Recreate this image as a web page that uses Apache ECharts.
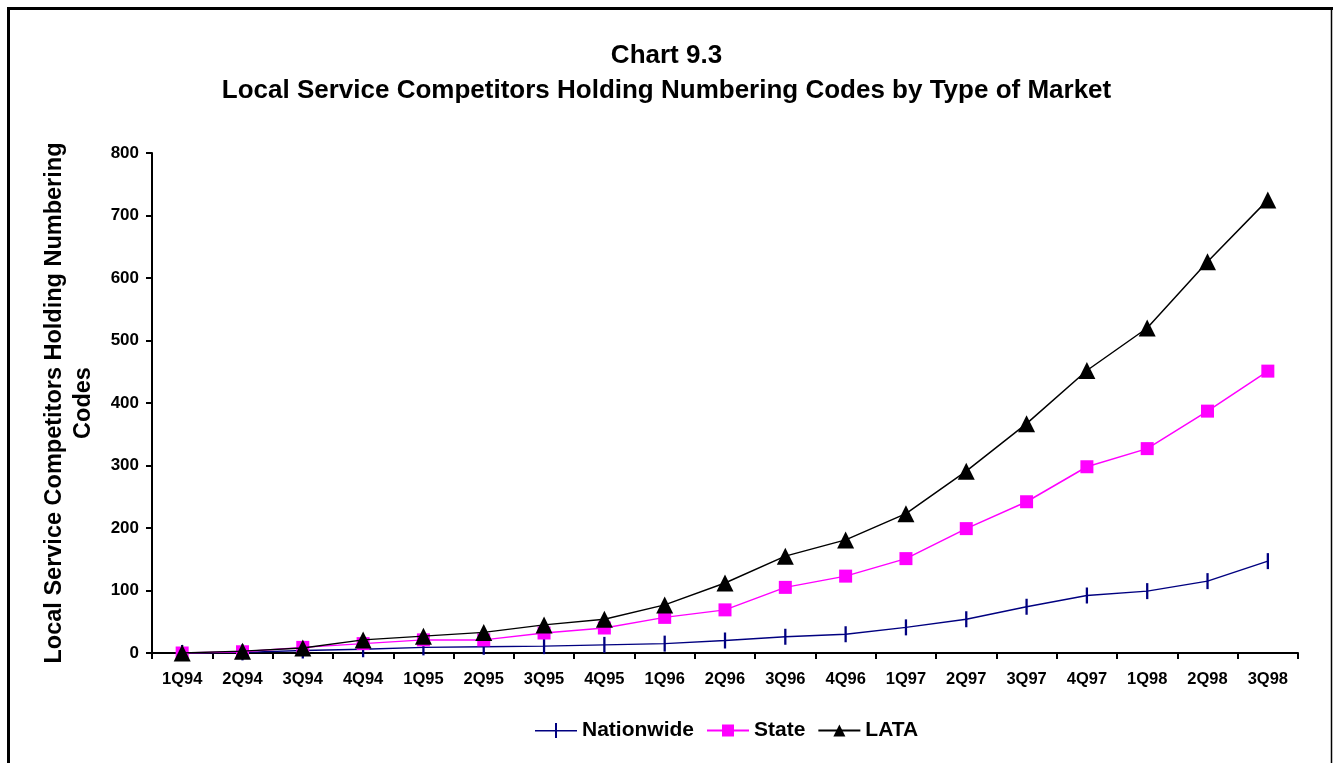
<!DOCTYPE html>
<html>
<head>
<meta charset="utf-8">
<title>Chart 9.3</title>
<script src="https://cdn.jsdelivr.net/npm/echarts@6/dist/echarts.min.js"></script>
<style>
  html, body { margin: 0; padding: 0; background: #fff; }
  #chart { width: 1333px; height: 763px; }
</style>
</head>
<body>
<div id="chart"></div>
<script>
// Quarters on the horizontal axis
const quarters = ['1Q94','2Q94','3Q94','4Q94','1Q95','2Q95','3Q95','4Q95','1Q96','2Q96',
                  '3Q96','4Q96','1Q97','2Q97','3Q97','4Q97','1Q98','2Q98','3Q98'];

// Competitors holding numbering codes, by type of market
const nationwide = [0, 1, 4, 6, 9, 10, 11, 13, 15, 20, 26, 30, 41, 54, 74, 92, 99, 115, 147];
const state      = [0, 2, 9, 15, 21, 21, 32, 40, 57, 69, 105, 123, 151, 199, 242, 298, 327, 387, 451];
const lata       = [0, 3, 8, 21, 27, 33, 45, 54, 77, 112, 155, 181, 223, 291, 367, 452, 520, 626, 725];

const titleLines = ['Chart 9.3', 'Local Service Competitors Holding Numbering Codes by Type of Market'];
const yAxisTitle = 'Local Service Competitors Holding Numbering\nCodes';

const FONT = '"Liberation Sans", Arial, Helvetica, sans-serif';

// legend key for the Nationwide series: a short rule crossed by a vertical dash
const dashKey = 'path://M0,7 L42,7 L42,8.5 L0,8.5 Z M20,0 L22,0 L22,15 L20,15 Z';

const chart = echarts.init(document.getElementById('chart'), null, { renderer: 'canvas' });

chart.setOption({
  backgroundColor: '#ffffff',
  animation: false,
  title: {
    text: titleLines.join('\n'),
    left: 'center',
    top: 33,
    textStyle: { fontFamily: FONT, fontSize: 26, fontWeight: 'bold', color: '#000', lineHeight: 35 }
  },
  grid: { left: 152, right: 35, top: 153, bottom: 110, containLabel: false },
  legend: {
    left: 530,
    top: 715,
    itemWidth: 42,
    itemHeight: 15,
    itemGap: 12,
    textStyle: { fontFamily: FONT, fontSize: 21, fontWeight: 'bold', color: '#000' },
    data: [
      { name: 'Nationwide', icon: dashKey },
      'State',
      'LATA'
    ]
  },
  xAxis: {
    type: 'category',
    data: quarters,
    boundaryGap: true,
    axisLine: { lineStyle: { color: '#000', width: 2 } },
    axisTick: { show: true, length: 6, lineStyle: { color: '#000', width: 2 } },
    axisLabel: { fontFamily: FONT, fontSize: 16.5, fontWeight: 'bold', color: '#000', margin: 18, interval: 0 },
    splitLine: { show: false }
  },
  yAxis: {
    type: 'value',
    min: 0,
    max: 800,
    interval: 100,
    name: yAxisTitle,
    nameLocation: 'middle',
    nameRotate: 90,
    nameGap: 54,
    nameTextStyle: { fontFamily: FONT, fontSize: 23.5, fontWeight: 'bold', color: '#000', lineHeight: 29 },
    axisLine: { show: true, lineStyle: { color: '#000', width: 2 } },
    axisTick: { show: true, length: 6, lineStyle: { color: '#000', width: 2 } },
    axisLabel: { fontFamily: FONT, fontSize: 17, fontWeight: 'bold', color: '#000', margin: 13 },
    splitLine: { show: false }
  },
  series: [
    {
      name: 'Nationwide',
      type: 'line',
      data: nationwide,
      color: '#000080',
      symbol: 'path://M0,0 L2,0 L2,14 L0,14 Z',
      symbolKeepAspect: true,
      symbolSize: 16,
      lineStyle: { color: '#000080', width: 1.5 },
      itemStyle: { color: '#000080' },
      z: 3
    },
    {
      name: 'State',
      type: 'line',
      data: state,
      color: '#ff00ff',
      symbol: 'rect',
      symbolSize: 13,
      lineStyle: { color: '#ff00ff', width: 1.5 },
      itemStyle: { color: '#ff00ff' },
      z: 4
    },
    {
      name: 'LATA',
      type: 'line',
      data: lata,
      color: '#000000',
      symbol: 'triangle',
      symbolSize: 17,
      lineStyle: { color: '#000', width: 1.5 },
      itemStyle: { color: '#000' },
      z: 5
    }
  ],
  graphic: [
    // outer frame: top, left and right rules
    { type: 'line', shape: { x1: 7, y1: 8.5, x2: 1333, y2: 8.5 }, style: { stroke: '#000', lineWidth: 3 } },
    { type: 'line', shape: { x1: 8.5, y1: 7, x2: 8.5, y2: 763 }, style: { stroke: '#000', lineWidth: 3 } },
    { type: 'line', shape: { x1: 1331.5, y1: 8, x2: 1331.5, y2: 763 }, style: { stroke: '#000', lineWidth: 1.5 } }
  ]
});
</script>
</body>
</html>
